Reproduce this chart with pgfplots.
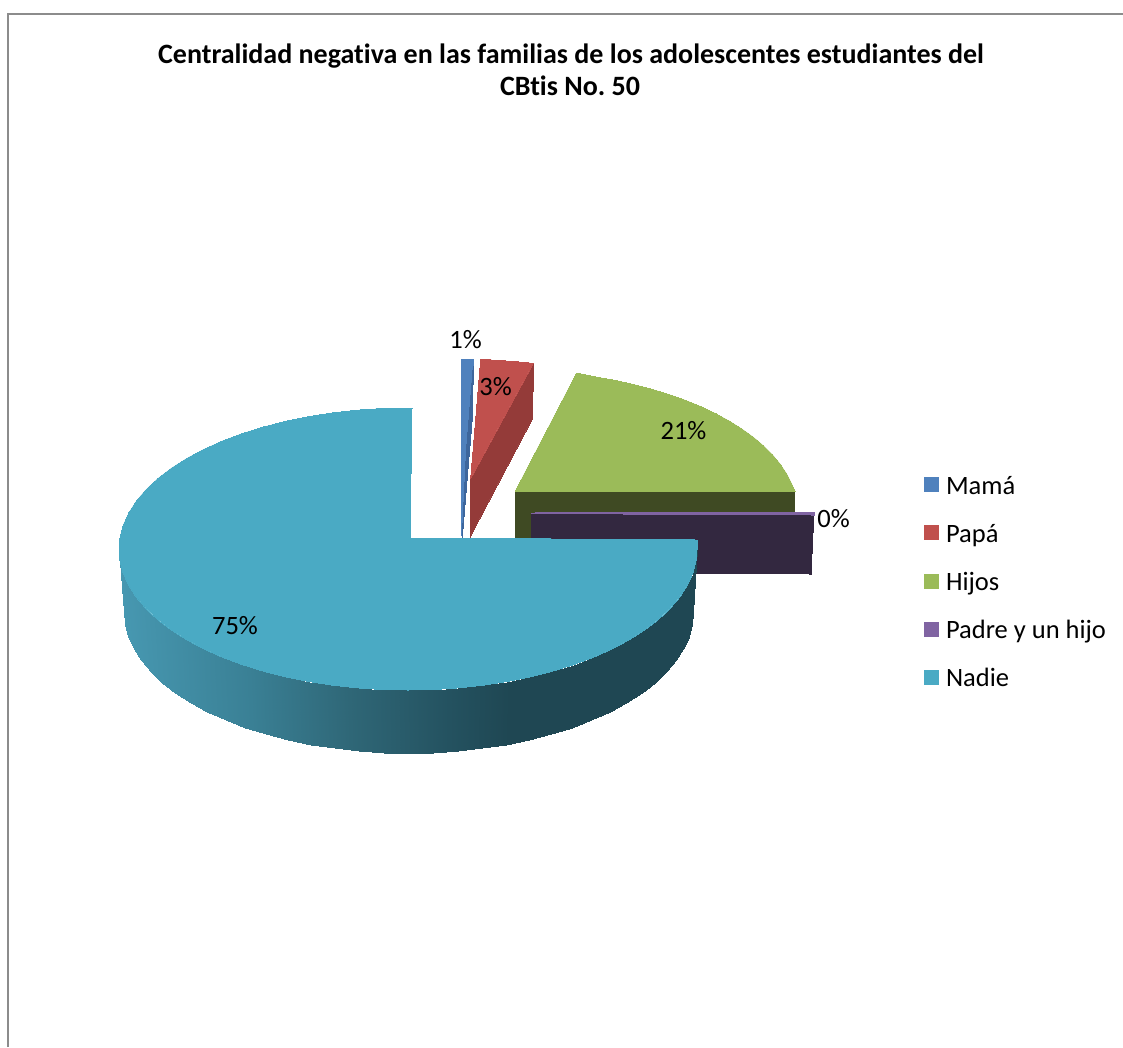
\documentclass[border=0pt]{standalone}
\usepackage{pgfplots}
\pgfplotsset{compat=1.18}
\usepackage{fontspec}
\setmainfont[Ligatures=NoCommon]{Carlito}
\frenchspacing
\definecolor{mama}{HTML}{4F81BD}
\definecolor{mamaside}{HTML}{3D669C}
\definecolor{papa}{HTML}{C0504D}
\definecolor{papaside}{HTML}{943B39}
\definecolor{hijos}{HTML}{9BBB59}
\definecolor{hijosside}{HTML}{3F4A23}
\definecolor{padre}{HTML}{8064A2}
\definecolor{padreside}{HTML}{332840}
\definecolor{nadie}{HTML}{4AAAC4}
\definecolor{marco}{HTML}{8C8C8C}
\begin{document}
\begin{tikzpicture}
\begin{axis}[
  width=1123pt, height=1047pt, scale only axis,
  xmin=0, xmax=1123, ymin=0, ymax=1047, y dir=reverse,
  hide axis,
  colormap={ladonadie}{rgb255(0pt)=(71,152,177); rgb255(130pt)=(58,128,149); rgb255(230pt)=(47,103,119); rgb255(330pt)=(36,82,96); rgb255(391pt)=(31,71,83); rgb255(578pt)=(31,71,83)},
  point meta min=119, point meta max=697,
  every axis plot/.append style={line width=0pt},
]
% page background and chart border
\addplot[fill=white, draw=none] coordinates {(0,0)(1123,0)(1123,1047)(0,1047)} --cycle;
\addplot[draw=marco, line width=2pt] coordinates {(7.5,1047)(7.5,14)(1123,14)};

% Hijos
\addplot[fill=hijosside, draw=hijosside] coordinates {(515,491.5)(794.5,491)(794,514)(794,540)(515,540)} --cycle;
\addplot[fill=hijos, draw=hijos] coordinates {(515,491.5)(576.5,373)(596.2,377)(615.4,380.4)(634,384.5)(652,389.2)(669.3,394.5)(685.8,400.3)(701.4,406.7)(716,413.7)(729.7,421.1)(742.2,429)(753.6,437.2)(763.8,445.9)(772.7,454.8)(780.4,464.1)(786.7,473.6)(791.6,483.3)(795,491)} --cycle;

% Padre y un hijo
\addplot[fill=padreside, draw=padreside] coordinates {(531,513)(814,512)(811,574)(690,573)(531,538)} --cycle;
\addplot[fill=padre, draw=padre] coordinates {(531,513)(814,512)(814,515)(531,513.5)} --cycle;

% Mamá
\addplot[fill=mama, draw=mama] coordinates {(461.3,359)(473.3,359)(473,366)(466.5,450)(462,537)} --cycle;
\addplot[fill=mamaside, draw=mamaside] coordinates {(473.3,366)(472.5,415)(462.3,537)(466.5,450)} --cycle;

% Papá
\addplot[fill=papaside, draw=papaside] coordinates {(533.3,363.3)(532.7,418.3)(470,537)(470.7,478.3)} --cycle;
\addplot[fill=papa, draw=papa] coordinates {(480.7,359.3)(500,360.5)(517,361.8)(533.3,363.3)(470.7,478.3)} --cycle;

% Nadie: curved rim, one quad per step, colour following the horizontal position
\addplot[patch, patch type=rectangle, shader=interp, point meta=explicit] coordinates {
(119,549)[119] (120.1,561.3)[120] (125.1,624.3)[120] (124,612)[119]
(120.1,561.3)[120] (123.4,573.5)[123] (128.3,636.5)[123] (125.1,624.3)[120]
(123.4,573.5)[123] (128.9,585.5)[129] (133.7,648.5)[129] (128.3,636.5)[123]
(128.9,585.5)[129] (136.4,597.2)[136] (141.2,660.2)[136] (133.7,648.5)[129]
(136.4,597.2)[136] (146.1,608.6)[146] (150.7,671.6)[146] (141.2,660.2)[136]
(146.1,608.6)[146] (157.7,619.5)[158] (162.1,682.5)[158] (150.7,671.6)[146]
(157.7,619.5)[158] (171.3,629.9)[171] (175.4,692.9)[171] (162.1,682.5)[158]
(171.3,629.9)[171] (186.6,639.6)[187] (190.6,702.6)[187] (175.4,692.9)[171]
(186.6,639.6)[187] (203.6,648.7)[204] (207.3,711.7)[204] (190.6,702.6)[187]
(203.6,648.7)[204] (222.2,657)[222] (225.6,720)[222] (207.3,711.7)[204]
(222.2,657)[222] (242.2,664.5)[242] (245.3,727.5)[242] (225.6,720)[222]
(242.2,664.5)[242] (263.5,671.1)[264] (266.2,734.1)[264] (245.3,727.5)[242]
(263.5,671.1)[264] (285.9,676.8)[286] (288.3,739.8)[286] (266.2,734.1)[264]
(285.9,676.8)[286] (309.2,681.5)[309] (311.2,744.5)[309] (288.3,739.8)[286]
(309.2,681.5)[309] (333.2,685.2)[333] (334.9,748.2)[333] (311.2,744.5)[309]
(333.2,685.2)[333] (357.8,687.9)[358] (359.1,750.9)[358] (334.9,748.2)[333]
(357.8,687.9)[358] (382.8,689.5)[383] (383.7,752.5)[383] (359.1,750.9)[358]
(382.8,689.5)[383] (408,690)[408] (408.5,753)[408] (383.7,752.5)[383]
(408,690)[408] (433.2,689.5)[433] (433.3,752.5)[433] (408.5,753)[408]
(433.2,689.5)[433] (458.2,687.9)[458] (457.9,750.9)[458] (433.3,752.5)[433]
(458.2,687.9)[458] (482.8,685.2)[483] (482.1,748.2)[483] (457.9,750.9)[458]
(482.8,685.2)[483] (506.8,681.5)[507] (505.8,744.5)[507] (482.1,748.2)[483]
(506.8,681.5)[507] (530.1,676.8)[530] (528.7,739.8)[530] (505.8,744.5)[507]
(530.1,676.8)[530] (552.5,671.1)[552] (550.8,734.1)[552] (528.7,739.8)[530]
(552.5,671.1)[552] (573.8,664.5)[574] (571.7,727.5)[574] (550.8,734.1)[552]
(573.8,664.5)[574] (593.8,657)[594] (591.4,720)[594] (571.7,727.5)[574]
(593.8,657)[594] (612.4,648.7)[612] (609.7,711.7)[612] (591.4,720)[594]
(612.4,648.7)[612] (629.4,639.6)[629] (626.4,702.6)[629] (609.7,711.7)[612]
(629.4,639.6)[629] (644.7,629.9)[645] (641.6,692.9)[645] (626.4,702.6)[629]
(644.7,629.9)[645] (658.3,619.5)[658] (654.9,682.5)[658] (641.6,692.9)[645]
(658.3,619.5)[658] (669.9,608.6)[670] (666.3,671.6)[670] (654.9,682.5)[658]
(669.9,608.6)[670] (679.6,597.2)[680] (675.8,660.2)[680] (666.3,671.6)[670]
(679.6,597.2)[680] (687.1,585.5)[687] (683.3,648.5)[687] (675.8,660.2)[680]
(687.1,585.5)[687] (692.6,573.5)[693] (688.7,636.5)[693] (683.3,648.5)[687]
(692.6,573.5)[693] (695.9,561.3)[696] (691.9,624.3)[696] (688.7,636.5)[693]
(695.9,561.3)[696] (697,549)[697] (693,612)[697] (691.9,624.3)[696]
};
% Nadie: top face, clockwise along the near edge back to the apex
\addplot[fill=nadie, draw=nadie] coordinates {
(410,538)(412,408)(382.8,408.5)(357.8,410.1)(333.2,412.8)(309.2,416.5)(285.9,421.2)(263.5,426.9)
(242.2,433.5)(222.2,441)(203.6,449.3)(186.6,458.4)(171.3,468.1)(157.7,478.5)(146.1,489.4)(136.4,500.8)
(128.9,512.5)(123.4,524.5)(120.1,536.7)(119,549)(120.1,561.3)(123.4,573.5)(128.9,585.5)(136.4,597.2)
(146.1,608.6)(157.7,619.5)(171.3,629.9)(186.6,639.6)(203.6,648.7)(222.2,657)(242.2,664.5)(263.5,671.1)
(285.9,676.8)(309.2,681.5)(333.2,685.2)(357.8,687.9)(382.8,689.5)(408,690)(433.2,689.5)(458.2,687.9)
(482.8,685.2)(506.8,681.5)(530.1,676.8)(552.5,671.1)(573.8,664.5)(593.8,657)(612.4,648.7)(629.4,639.6)
(644.7,629.9)(658.3,619.5)(669.9,608.6)(679.6,597.2)(687.1,585.5)(692.6,573.5)(695.9,561.3)(697,549)(697,540)
} --cycle;

% legend swatches
\addplot[fill=mama, draw=none] coordinates {(924,477)(939,477)(939,492)(924,492)} --cycle;
\addplot[fill=papa, draw=none] coordinates {(924,525)(939,525)(939,540)(924,540)} --cycle;
\addplot[fill=hijos, draw=none] coordinates {(924,574)(939,574)(939,589)(924,589)} --cycle;
\addplot[fill=padre, draw=none] coordinates {(924,622)(939,622)(939,637)(924,637)} --cycle;
\addplot[fill=nadie, draw=none] coordinates {(924,670)(939,670)(939,685)(924,685)} --cycle;

% title
\node[anchor=base, font=\fontsize{28}{33}\selectfont\bfseries] at (axis cs:571,63) {Centralidad negativa en las familias de los adolescentes estudiantes del};
\node[anchor=base, font=\fontsize{28}{33}\selectfont\bfseries] at (axis cs:570,95) {CBtis No. 50};

% legend entries
\foreach \ypos/\name in {494/Mamá, 542/Papá, 590/Hijos, 638/Padre y un hijo, 686/Nadie}{
  \edef\temp{\noexpand\node[anchor=base west, font=\noexpand\fontsize{26.5}{31}\noexpand\selectfont] at (axis cs:942.5,\ypos) {\name};}
  \temp
}

% percentage labels
\node[anchor=base, font=\fontsize{26.5}{31}\selectfont] at (axis cs:465.5,348) {1\%};
\node[anchor=base, font=\fontsize{26.5}{31}\selectfont] at (axis cs:495.5,395) {3\%};
\node[anchor=base, font=\fontsize{26.5}{31}\selectfont] at (axis cs:683.5,439) {21\%};
\node[anchor=base, font=\fontsize{26.5}{31}\selectfont] at (axis cs:833.5,527) {0\%};
\node[anchor=base, font=\fontsize{26.5}{31}\selectfont] at (axis cs:235,634) {75\%};
\end{axis}
\end{tikzpicture}
\end{document}
